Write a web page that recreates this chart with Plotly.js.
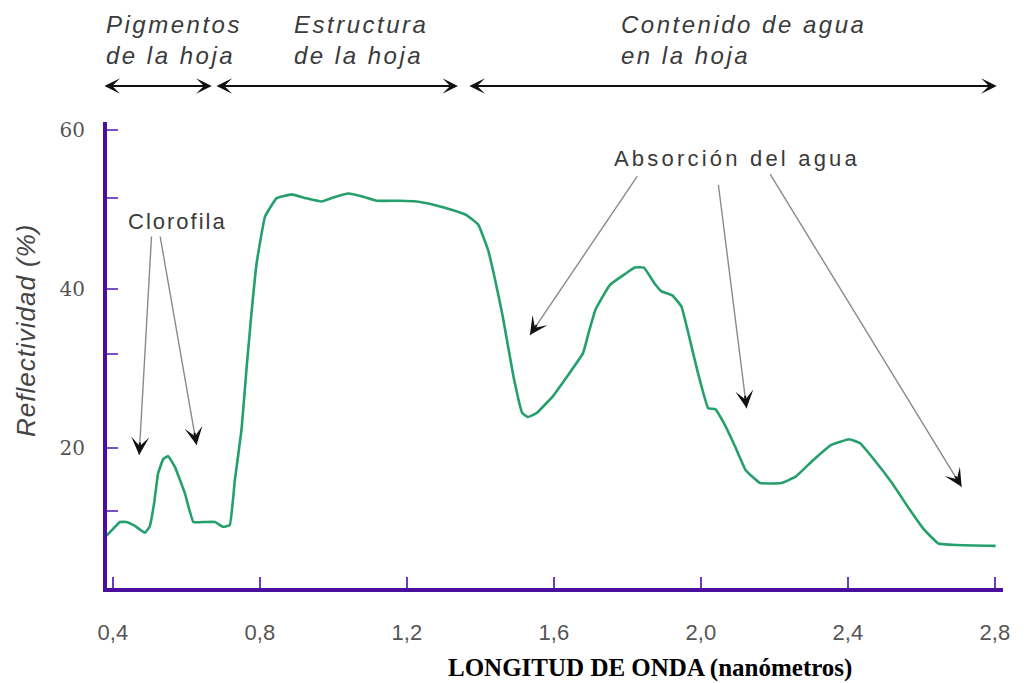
<!DOCTYPE html>
<html>
<head>
<meta charset="utf-8">
<script src="https://cdn.plot.ly/plotly-3.0.1.min.js"></script>
<style>html,body{margin:0;padding:0;background:#fff;}#chart{width:1028px;height:683px;}</style>
</head>
<body>
<div id="chart"></div>
<script>
// ---- data ----
const wavelength = [0.383,0.40,0.419,0.437,0.46,0.487,0.50,0.512,0.523,0.537,0.550,0.569,0.596,0.619,0.65,0.678,0.70,0.718,0.732,0.750,0.764,0.777,0.791,0.814,0.845,0.886,0.927,0.968,1.00,1.04,1.081,1.118,1.181,1.226,1.272,1.326,1.362,1.394,1.421,1.444,1.461,1.490,1.514,1.529,1.553,1.597,1.636,1.679,1.694,1.713,1.752,1.791,1.820,1.845,1.874,1.893,1.922,1.947,1.966,1.990,2.020,2.039,2.063,2.093,2.122,2.161,2.219,2.258,2.306,2.355,2.404,2.433,2.472,2.520,2.569,2.608,2.646,2.695,2.802];
const reflectance = [9.0,9.8,10.7,10.7,10.2,9.35,10.1,13.0,16.8,18.6,19.0,17.6,14.3,10.7,10.7,10.7,10.1,10.3,16.0,22.3,30.2,36.9,43.2,49.1,51.4,51.9,51.4,51.0,51.5,52.0,51.6,51.1,51.1,51.0,50.6,49.9,49.3,48.1,44.9,40.3,36.5,29.0,24.4,23.9,24.4,26.5,29.0,31.9,34.4,37.4,40.5,41.8,42.7,42.7,40.7,39.7,39.2,37.8,34.4,29.8,25.0,24.9,23.1,20.2,17.2,15.6,15.6,16.4,18.5,20.4,21.1,20.6,18.5,15.6,12.2,9.7,8.0,7.8,7.7];

const xTickVals = [0.4,0.8,1.2,1.6,2.0,2.4,2.8];
const xTickText = ["0,4","0,8","1,2","1,6","2,0","2,4","2,8"];
const yTickVals = [12.1,20,31.8,40,51.4,60];
const yTickText = ["","20","","40","","60"];

// region labels and arrow extents (wavelength)
const regionLabels = ["Pigmentos<br>de la hoja","Estructura<br>de la hoja","Contenido de agua<br>en la hoja"];
const regionStart = [0.373, 0.678, 1.366];
const regionEnd = [0.669, 1.339, 2.805];

// pointer arrows: tip and tail (wavelength, reflectance)
const arrowTipX = [0.4716, 0.6278, 1.5347, 2.1243, 2.7094];
const arrowTipY = [19.12, 20.38, 34.21, 24.99, 15.13];
const arrowTailX = [0.5053, 0.5279, 1.8294, 2.0471, 2.1858];
const arrowTailY = [46.79, 46.79, 54.34, 53.30, 54.63];

// ---- layout geometry ----
const FW = 1028, FH = 683;
const M = {l:107, r:25, t:122, b:95};
const W = FW - M.l - M.r, H = FH - M.t - M.b;
const xr = [0.384, 2.822], yr = [2.4, 61.0];
const sx = W/(xr[1]-xr[0]), sy = H/(yr[1]-yr[0]);
const px2paperX = p => (p - M.l)/W;
const py2paperY = p => (FH - M.b - p)/H;
const regionLabelPx = [104, 292, 619];

const purple = '#4b0f9e';
const txtFont = {family:'"Liberation Sans", Arial, sans-serif', size:24, color:'#3a3a3a', style:'italic'};
const sp = (t, ls) => '<span style="letter-spacing:' + ls + 'px">' + t + '</span>';

const annotations = [];
const arrowY = py2paperY(86);
for (let i = 0; i < regionLabels.length; i++) {
  annotations.push({xref:'paper', yref:'paper', x:px2paperX(regionLabelPx[i]), y:py2paperY(40), xanchor:'left', yanchor:'middle',
    align:'left', showarrow:false, text: regionLabels[i].split('<br>').map(s=>sp(s,2.5)).join('<br>'), font:txtFont});
  annotations.push({xref:'x', yref:'paper', x:regionEnd[i], y:arrowY, axref:'x', ayref:'pixel', ax:regionStart[i], ay:0,
    showarrow:true, arrowside:'end+start', arrowhead:3, startarrowhead:3, arrowsize:1.3, startarrowsize:1.3,
    arrowwidth:2, arrowcolor:'#111', text:''});
}
for (let i = 0; i < arrowTipX.length; i++) {
  annotations.push({xref:'x', yref:'y', x:arrowTipX[i], y:arrowTipY[i], axref:'x', ayref:'y', ax:arrowTailX[i], ay:arrowTailY[i],
    showarrow:true, arrowhead:0, arrowwidth:1.4, arrowcolor:'#8a8a8a', text:''});
  let dx = (arrowTailX[i]-arrowTipX[i])*sx, dy = -(arrowTailY[i]-arrowTipY[i])*sy;
  const n = Math.hypot(dx, dy); dx /= n; dy /= n;
  annotations.push({xref:'x', yref:'y', x:arrowTipX[i], y:arrowTipY[i], ax:dx*14, ay:dy*14,
    showarrow:true, arrowhead:3, arrowsize:1.5, arrowwidth:2, arrowcolor:'#111', text:''});
}
annotations.push({xref:'paper', yref:'paper', x:px2paperX(126), y:py2paperY(221), xanchor:'left', yanchor:'middle', showarrow:false,
  text:sp('Clorofila',2), font:{family:'"Liberation Sans", Arial, sans-serif', size:22, color:'#3a3a3a'}});
annotations.push({xref:'paper', yref:'paper', x:px2paperX(612), y:py2paperY(158), xanchor:'left', yanchor:'middle', showarrow:false,
  text:sp('Absorción del agua',3.2), font:{family:'"Liberation Sans", Arial, sans-serif', size:22, color:'#3a3a3a'}});
annotations.push({xref:'paper', yref:'paper', x:px2paperX(26), y:py2paperY(330), xanchor:'center', yanchor:'middle', textangle:-90, showarrow:false,
  text:sp('Reflectividad (%)',1), font:{family:'"Liberation Sans", Arial, sans-serif', size:26, color:'#444', style:'italic'}});
annotations.push({xref:'paper', yref:'paper', x:px2paperX(650), y:py2paperY(668), xanchor:'center', yanchor:'middle', showarrow:false,
  text:'<b>LONGITUD DE ONDA (nanómetros)</b>', font:{family:'"Liberation Serif", "Times New Roman", serif', size:25, color:'#000'}});

const trace = {x:wavelength, y:reflectance, type:'scatter', mode:'lines',
  line:{color:'#25a06c', width:2.6, shape:'spline', smoothing:0.3}, hoverinfo:'skip'};

const layout = {
  width:FW, height:FH, margin:M, paper_bgcolor:'#fff', plot_bgcolor:'#fff', showlegend:false,
  xaxis:{range:xr, showgrid:false, zeroline:false, showline:true, linecolor:purple, linewidth:4,
    ticks:'inside', ticklen:11, tickwidth:2, tickcolor:'#6a3cc0', tickvals:xTickVals, ticktext:xTickText,
    ticklabelstandoff:22, tickfont:{family:'"Liberation Sans", Arial, sans-serif', size:22, color:'#555'}},
  yaxis:{range:yr, showgrid:false, zeroline:false, showline:true, linecolor:purple, linewidth:4,
    ticks:'inside', ticklen:11, tickwidth:2, tickcolor:'#7a50c8', tickvals:yTickVals, ticktext:yTickText,
    ticklabelstandoff:14, tickfont:{family:'"DejaVu Serif", serif', size:20, color:'#555'}},
  annotations:annotations
};
Plotly.newPlot('chart', [trace], layout, {displayModeBar:false, staticPlot:true});
</script>
</body>
</html>
